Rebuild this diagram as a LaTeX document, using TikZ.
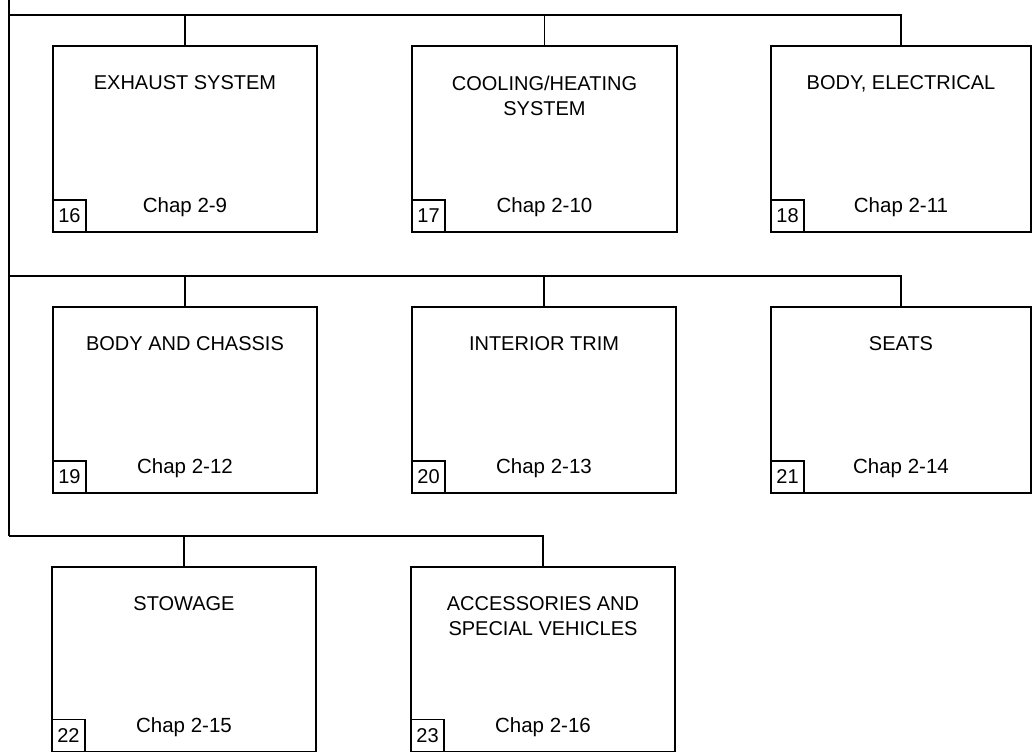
\documentclass[tikz,border=0pt]{standalone}
\usepackage{fontspec}
\setmainfont{Liberation Sans}
\begin{document}
\begin{tikzpicture}[x=1pt,y=-1pt,
  line width=1.3pt,
  box/.style={draw, rectangle, anchor=north west, inner sep=0pt, outer sep=0pt},
  numbox/.style={draw, rectangle, anchor=south west, minimum width=33pt, minimum height=32pt, inner sep=0pt, outer sep=0pt, font=\fontsize{20}{22}\selectfont},
  title/.style={anchor=north, inner sep=0pt, align=center, font=\fontsize{20}{25}\selectfont},
  chap/.style={anchor=base, inner sep=0pt, font=\fontsize{20.5}{22}\selectfont},
  wire/.style={draw, line width=1.3pt}
]
\useasboundingbox (0,0) rectangle (1033,753);

% boxes
\node[box, minimum width=264pt, minimum height=186pt] (b16) at (53,46) {};
\node[box, minimum width=265pt, minimum height=186pt] (b17) at (412,46) {};
\node[box, minimum width=260pt, minimum height=186pt] (b18) at (771,46) {};
\node[box, minimum width=264pt, minimum height=186pt] (b19) at (53,307) {};
\node[box, minimum width=264pt, minimum height=186pt] (b20) at (412,307) {};
\node[box, minimum width=260pt, minimum height=186pt] (b21) at (771,307) {};
\node[box, minimum width=264pt, minimum height=184.5pt] (b22) at (52,567) {};
\node[box, minimum width=264pt, minimum height=184.5pt] (b23) at (411,567) {};

% titles
\node[title] (t16) at ([yshift=-29pt]b16.north) {EXHAUST SYSTEM};
\node[title] (t17) at ([yshift=-29pt]b17.north) {COOLING/HEATING\\SYSTEM};
\node[title] (t18) at ([yshift=-29pt]b18.north) {BODY, ELECTRICAL};
\node[title] (t19) at ([yshift=-29pt]b19.north) {BODY AND CHASSIS};
\node[title] (t20) at ([yshift=-29pt]b20.north) {INTERIOR TRIM};
\node[title] (t21) at ([yshift=-29pt]b21.north) {SEATS};
\node[title] (t22) at ([yshift=-29pt]b22.north) {STOWAGE};
\node[title] (t23) at ([yshift=-29pt]b23.north) {ACCESSORIES AND\\SPECIAL VEHICLES};

% chapter labels
\node[chap] (c16) at ([yshift=20pt]b16.south) {Chap 2-9};
\node[chap] (c17) at ([yshift=20pt]b17.south) {Chap 2-10};
\node[chap] (c18) at ([yshift=20pt]b18.south) {Chap 2-11};
\node[chap] (c19) at ([yshift=20pt]b19.south) {Chap 2-12};
\node[chap] (c20) at ([yshift=20pt]b20.south) {Chap 2-13};
\node[chap] (c21) at ([yshift=20pt]b21.south) {Chap 2-14};
\node[chap] (c22) at ([yshift=19pt]b22.south) {Chap 2-15};
\node[chap] (c23) at ([yshift=19pt]b23.south) {Chap 2-16};

% number boxes
\node[numbox] (n16) at (b16.south west) {16};
\node[numbox] (n17) at (b17.south west) {17};
\node[numbox] (n18) at (b18.south west) {18};
\node[numbox] (n19) at (b19.south west) {19};
\node[numbox] (n20) at (b20.south west) {20};
\node[numbox] (n21) at (b21.south west) {21};
\node[numbox] (n22) at (b22.south west) {22};
\node[numbox] (n23) at (b23.south west) {23};

% buses
\coordinate (top) at (9,0);
\coordinate (bus1) at (9,15);
\coordinate (bus2) at (9,276);
\coordinate (bus3) at (9,536);

\draw[wire] (top) -- (bus3);
\draw[wire] (bus1) -| (b18.north);
\draw[wire] (bus2) -| (b21.north);
\draw[wire] (bus3) -| (b23.north);
\draw[wire] (b16.north) -- (b16.north |- bus1);
\draw[wire] (b17.north) -- (b17.north |- bus1);
\draw[wire] (b19.north) -- (b19.north |- bus2);
\draw[wire] (b20.north) -- (b20.north |- bus2);
\draw[wire] (b22.north) -- (b22.north |- bus3);
\end{tikzpicture}
\end{document}
